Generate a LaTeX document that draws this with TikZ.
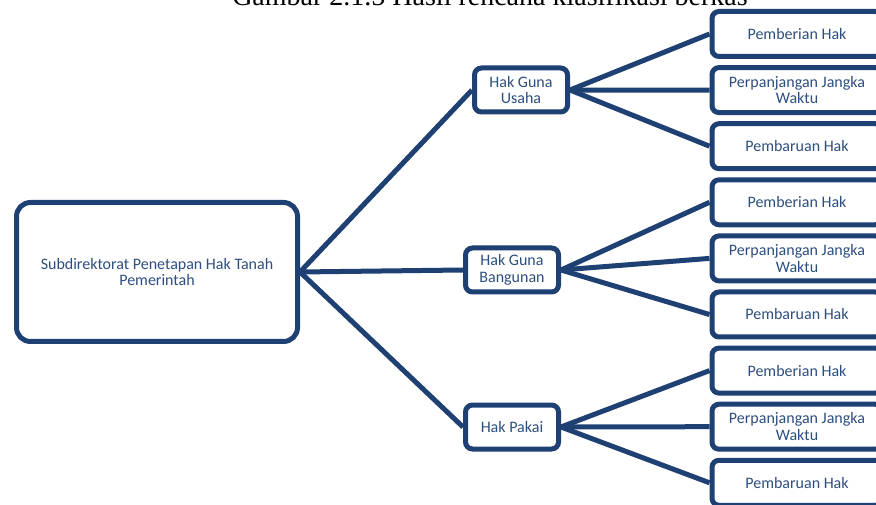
\documentclass[tikz,border=0pt]{standalone}
\usepackage{fontspec}
\setmainfont{Liberation Serif}
\newfontfamily\boxfont{Carlito}
\usepackage{tikz}

\definecolor{hakblue}{RGB}{31,64,114}
\definecolor{haktext}{RGB}{45,78,128}

\begin{document}
\begin{tikzpicture}[
    x=1pt, y=1pt,
    every node/.style={font=\boxfont\fontsize{16}{16.5}\selectfont, text=haktext, align=center},
    root/.style={draw=hakblue, line width=5pt, rounded corners=14pt, minimum width=281pt, minimum height=139pt, inner sep=0pt},
    hak/.style={draw=hakblue, line width=5pt, rounded corners=7pt, minimum width=93pt, minimum height=44pt, inner sep=0pt},
    proses/.style={draw=hakblue, line width=5pt, rounded corners=7pt, minimum width=170pt, minimum height=45pt, inner sep=0pt},
    link/.style={draw=hakblue, line width=5pt}
]
\useasboundingbox (0,0) rectangle (876,504);

% Caption (cut off at the top)
\node[anchor=base, font=\rmfamily\fontsize{28}{28}\selectfont, text=black] (caption) at (490,498) {Gambar 2.1.5 Hasil rencana klasifikasi berkas};

% Root node
\node[root] (root) at (157,232) {Subdirektorat Penetapan Hak Tanah\\Pemerintah};

% Hak nodes
\node[hak] (hgu) at (521,414) {Hak Guna\\Usaha};
\node[hak] (hgb) at (512,234) {Hak Guna\\Bangunan};
\node[hak] (hp) at (512,77) {Hak Pakai};

\foreach \hak in {hgu, hgb, hp}
    \draw[link] (root.east) -- (\hak.west);

% Proses nodes
\foreach \hak/\row in {hgu/0, hgb/1, hp/2} {
    \node[proses] (\hak-beri) at (797,470-168.3*\row) {Pemberian Hak};
    \node[proses] (\hak-panjang) at (797,413.9-168.3*\row) {Perpanjangan Jangka\\Waktu};
    \node[proses] (\hak-baru) at (797,357.8-168.3*\row) {Pembaruan Hak};
    \foreach \proses in {beri, panjang, baru}
        \draw[link] (\hak.east) -- (\hak-\proses.west);
}
\end{tikzpicture}
\end{document}
